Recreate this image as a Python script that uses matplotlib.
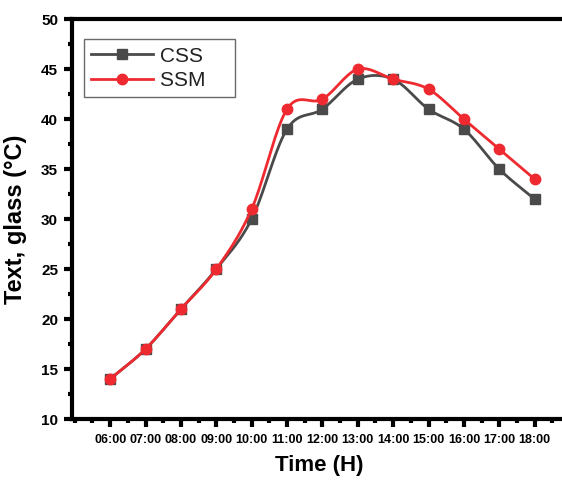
import numpy as np
import matplotlib
matplotlib.use('Agg')
import matplotlib.pyplot as plt
from matplotlib.ticker import MultipleLocator

plt.rcParams['font.family'] = ['Liberation Sans', 'DejaVu Sans']

hours = ['06:00', '07:00', '08:00', '09:00', '10:00', '11:00', '12:00',
         '13:00', '14:00', '15:00', '16:00', '17:00', '18:00']
css = [14, 17, 21, 25, 30, 39, 41, 44, 44, 41, 39, 35, 32]
ssm = [14, 17, 21, 25, 31, 41, 42, 45, 44, 43, 40, 37, 34]


def smooth(y, n=20):
    # Catmull-Rom curve through the points (drawing only)
    y = np.asarray(y, float)
    p = np.concatenate([[2 * y[0] - y[1]], y, [2 * y[-1] - y[-2]]])
    xs, ys = [], []
    for i in range(len(y) - 1):
        p0, p1, p2, p3 = p[i], p[i + 1], p[i + 2], p[i + 3]
        t = np.linspace(0, 1, n, endpoint=False)
        seg = 0.5 * ((2 * p1) + (-p0 + p2) * t + (2 * p0 - 5 * p1 + 4 * p2 - p3) * t ** 2
                     + (-p0 + 3 * p1 - 3 * p2 + p3) * t ** 3)
        xs.append(i + t)
        ys.append(seg)
    xs.append([len(y) - 1])
    ys.append([y[-1]])
    return np.concatenate(xs), np.concatenate(ys)


fig = plt.figure(figsize=(5.62, 4.8), dpi=100)
ax = fig.add_axes([0.128, 0.127, 0.88, 0.833])

x = np.arange(len(hours))
gray = '#4a4a4a'
red = '#ee2a30'

sx, sy = smooth(css)
ax.plot(sx, sy, color=gray, lw=2)
ax.plot(x, css, 's', color=gray, ms=7)
rx, ry = smooth(ssm)
ax.plot(rx, ry, color=red, lw=2)
ax.plot(x, ssm, 'o', color=red, ms=7.5)

# legend proxies
ax.plot([], [], '-s', color=gray, lw=2, ms=7, label='CSS    ')
ax.plot([], [], '-o', color=red, lw=2, ms=7.5, label='SSM    ')
leg = ax.legend(loc='upper left', bbox_to_anchor=(0.015, 0.96), fontsize=15,
                fancybox=False, edgecolor='#444444', handlelength=3.0,
                borderpad=0.35, labelspacing=0.25, handletextpad=0.3,
                borderaxespad=0.2)
leg.get_frame().set_linewidth(1)
for t in leg.get_texts():
    t.set_color('#222222')

ax.set_xlim(-1.08, 12.9)
ax.set_ylim(10, 50)
ax.set_xticks(x)
ax.set_xticklabels(hours, fontsize=9, fontweight='bold')
ax.xaxis.set_minor_locator(MultipleLocator(0.5))
ax.yaxis.set_major_locator(MultipleLocator(5))
ax.yaxis.set_minor_locator(MultipleLocator(2.5))
for lab in ax.get_yticklabels():
    lab.set_fontweight('bold')
    lab.set_fontsize(11)

ax.tick_params(which='major', direction='out', length=6, width=3, pad=5)
ax.tick_params(which='minor', direction='out', length=3, width=3)
ax.tick_params(axis='y', pad=4)
for s in ['left', 'bottom', 'top']:
    ax.spines[s].set_linewidth(3)
ax.spines['right'].set_visible(False)

ax.set_xlabel('Time (H)', fontsize=16, fontweight='bold', labelpad=6)
ax.set_ylabel('Text, glass (°C)', fontsize=17, fontweight='bold', labelpad=10)

fig.savefig('out.png', dpi=100)
